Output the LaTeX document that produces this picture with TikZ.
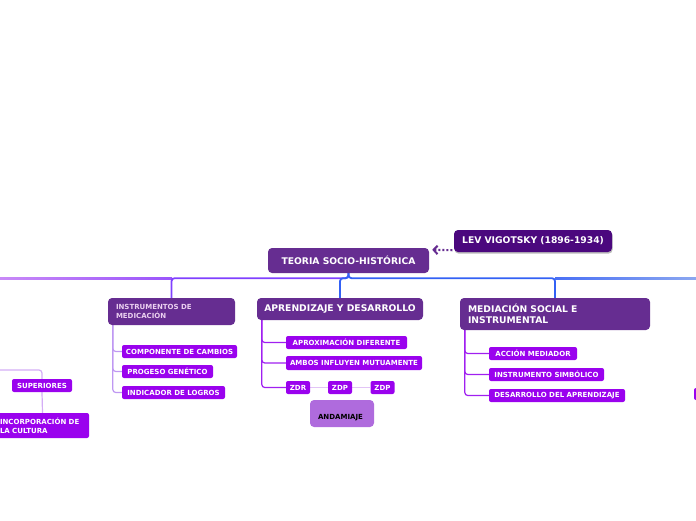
\documentclass[tikz,border=0pt]{standalone}
\usepackage{fontspec}
\setmainfont{DejaVu Sans}
\usetikzlibrary{arrows.meta,shadows,backgrounds}
\definecolor{mainpurple}{HTML}{662D91}
\definecolor{levpurple}{HTML}{4B087E}
\definecolor{brightviolet}{HTML}{9A02EE}
\definecolor{andacol}{HTML}{AF6BDD}
\definecolor{instrtext}{HTML}{EBD0F0}
\definecolor{lineviolet}{HTML}{8040FF}
\definecolor{lineblue}{HTML}{3361F5}
\definecolor{lineleftA}{HTML}{C98AF7}
\definecolor{lineleftB}{HTML}{9A55FB}
\definecolor{linerightA}{HTML}{4A70F5}
\definecolor{linerightB}{HTML}{8CA8F0}
\definecolor{childviolet}{HTML}{A020F0}
\definecolor{childlav}{HTML}{BF98F2}
\definecolor{zlav}{HTML}{E2C4F6}
\definecolor{leftlav}{HTML}{D4AEF6}
\begin{document}
\begin{tikzpicture}[x=1pt,y=-1pt,
  bigbox/.style={rounded corners=4pt, inner sep=0pt, fill=mainpurple, text=white,
    font=\bfseries\fontsize{9.2}{11}\selectfont},
  levbox/.style={bigbox, fill=levpurple,
    drop shadow={shadow xshift=0.6pt, shadow yshift=-1.6pt, fill=black!50, opacity=0.55}},
  smallbox/.style={rounded corners=2pt, inner sep=0pt, fill=brightviolet, text=white,
    font=\bfseries\fontsize{7}{9}\selectfont, minimum height=13pt},
  andabox/.style={rounded corners=4pt, inner sep=0pt, fill=andacol},
  andalabel/.style={inner sep=0pt, text=black, font=\bfseries\fontsize{7}{9}\selectfont},
  conn/.style={line width=1.8pt, rounded corners=3pt},
  childline/.style={line width=1.2pt, rounded corners=3pt},
  dotarrow/.style={draw=mainpurple, line width=2.1pt,
    dash pattern=on 2pt off 2pt,
    -{Straight Barb[length=4pt,width=8.5pt,line width=2pt]}}
]
\useasboundingbox (0,0) rectangle (696,520);

% main nodes
\node[bigbox, minimum width=161pt, minimum height=25pt] (main) at (348.5,260.5) {TEORIA SOCIO-HISTÓRICA};
\node[levbox, minimum width=158pt, minimum height=22pt] (lev) at (533,241) {LEV VIGOTSKY (1896-1934)};

\node[bigbox, text=instrtext, font=\bfseries\fontsize{7}{9}\selectfont,
  text width=111pt, align=left, inner xsep=8pt, minimum height=27pt] (instr) at (171.5,311.5)
  {INSTRUMENTOS DE\\MEDICACIÓN};
\node[bigbox, minimum width=166pt, minimum height=22pt] (apr) at (340,309) {APRENDIZAJE Y DESARROLLO};
\node[bigbox, text width=174pt, align=left, inner xsep=8pt, minimum height=32pt] (med) at (555,314)
  {MEDIACIÓN SOCIAL E\\INSTRUMENTAL};

% children of instrumentos
\node[smallbox, minimum width=115pt] (comp) at (179.5,351.5) {COMPONENTE DE CAMBIOS};
\node[smallbox, minimum width=91pt] (prog) at (167.5,371.5) {PROGESO GENÉTICO};
\node[smallbox, minimum width=103pt] (indic) at (173.5,392.5) {INDICADOR DE LOGROS};

% children of aprendizaje
\node[smallbox, minimum width=121pt] (aprox) at (346.5,342.5) {APROXIMACIÓN DIFERENTE};
\node[smallbox, minimum width=136pt, minimum height=14pt] (ambos) at (354,363) {AMBOS INFLUYEN MUTUAMENTE};
\node[smallbox, minimum width=24pt] (zdr) at (298,387.5) {ZDR};
\node[smallbox, minimum width=24pt] (zdpa) at (340,387.5) {ZDP};
\node[smallbox, minimum width=24pt] (zdpb) at (382.5,387.5) {ZDP};
\node[andabox, minimum width=64pt, minimum height=27pt] (anda) at (342,413.5) {};
\node[andalabel] (andatext) at (340.5,418) {ANDAMIAJE};

% children of mediacion
\node[smallbox, minimum width=88pt] (acc) at (533,353.5) {ACCIÓN MEDIADOR};
\node[smallbox, minimum width=115pt] (inst) at (546.5,374.5) {INSTRUMENTO SIMBÓLICO};
\node[smallbox, minimum width=136pt] (desa) at (557,395.5) {DESARROLLO DEL APRENDIZAJE};

% left, partly visible
\node[smallbox, minimum width=60pt] (sup) at (42,385.5) {SUPERIORES};
\node[smallbox, text width=85pt, align=left, inner xsep=4pt, minimum height=25pt] (incorp) at (42.5,425.5)
  {INCORPORACIÓN DE\\LA CULTURA};
% right, partly visible
\node[smallbox, minimum width=12pt, minimum height=12pt] (rnode) at (700,394) {};

\coordinate (leftfree) at (0,370);

\begin{scope}[on background layer]
  % main horizontal line with free ends
  \shade[left color=lineleftA, right color=lineleftB] (-2,277.6) rectangle (172,279.4);
  \shade[left color=linerightA, right color=linerightB] (555,277.6) rectangle (698,279.4);
  \draw[conn, draw=lineviolet] (main.south) -- ++(0,5) -| (instr.north);
  \draw[conn, draw=lineblue] (main.south) -- ++(0,5) -| (apr.north);
  \draw[conn, draw=lineblue] (main.south) -- ++(0,5) -| (med.north);

  % children connectors
  \draw[childline, draw=childlav] ([xshift=5pt]instr.south west) |- (comp.west);
  \draw[childline, draw=childlav] ([xshift=5pt]instr.south west) |- (prog.west);
  \draw[childline, draw=childlav] ([xshift=5pt]instr.south west) |- (indic.west);

  \draw[childline, draw=childviolet] ([xshift=5pt]apr.south west) |- (aprox.west);
  \draw[childline, draw=childviolet] ([xshift=5pt]apr.south west) |- (ambos.west);
  \draw[childline, draw=childviolet] ([xshift=5pt]apr.south west) |- (zdr.west);
  \draw[line width=1.5pt, draw=zlav] (zdr) -- (zdpa) -- (zdpb);

  \draw[childline, draw=childviolet] ([xshift=5pt]med.south west) |- (acc.west);
  \draw[childline, draw=childviolet] ([xshift=5pt]med.south west) |- (inst.west);
  \draw[childline, draw=childviolet] ([xshift=5pt]med.south west) |- (desa.west);

  \draw[childline, draw=leftlav] (leftfree) -| (sup.north);
  \draw[childline, draw=leftlav] (sup.south) -- (incorp.north);
\end{scope}

% dotted arrow from Vigotsky to main
\draw[dotarrow] ([xshift=-1.5pt,yshift=2pt]lev.south west) -- ([xshift=3pt,yshift=-2pt]main.north east);
\end{tikzpicture}
\end{document}
